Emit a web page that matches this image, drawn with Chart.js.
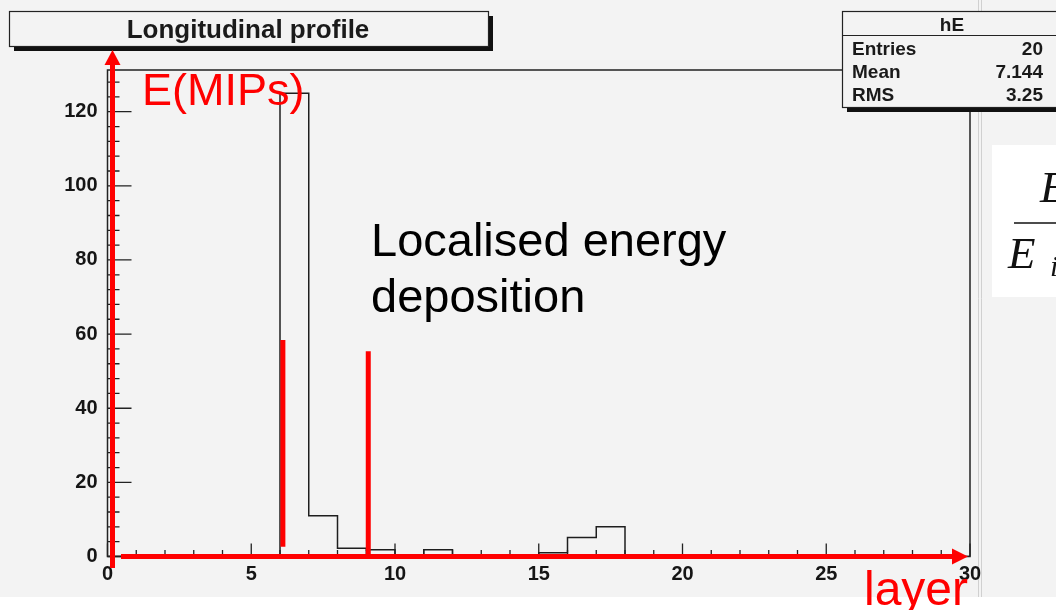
<!DOCTYPE html>
<html>
<head>
<meta charset="utf-8">
<script src="https://cdn.jsdelivr.net/npm/chart.js@4.4.1/dist/chart.umd.min.js"></script>
<style>
  html, body { margin: 0; padding: 0; background: #f3f3f3; }
  #wrap { position: relative; width: 1056px; height: 610px; }
</style>
</head>
<body>
<div id="wrap"><canvas id="hE" width="1056" height="610"></canvas></div>
<script>
// histogram hE: energy per layer (bin i covers layer i .. i+1)
const layers = [0, 1, 2, 3, 4, 5, 6, 7, 8, 9, 10, 11, 12, 13, 14, 15, 16, 17, 18, 19, 20, 21, 22, 23, 24, 25, 26, 27, 28, 29];
const energy = [0, 0, 0, 0, 0, 0, 125, 11, 2.2, 1.8, 0.3, 1.8, 0, 0, 0, 1.0, 5.1, 8.0, 0, 0, 0, 0, 0, 0, 0, 0, 0, 0, 0, 0];
const xTicks = [0, 5, 10, 15, 20, 25, 30];
const yTicks = [0, 20, 40, 60, 80, 100, 120];
const statNames = ['Entries', 'Mean', 'RMS'];
const statValues = ['20', '7.144', '3.25'];
// red marker lines drawn on the slide (layer, from E, to E)
const markers = [[6.1, 2.6, 58.4], [9.07, 0, 55.4]];

// outline: each bin's left edge carries its content, closed at layer 30
const histPoints = layers.map((l, i) => ({ x: l, y: energy[i] }));
histPoints.push({ x: 30, y: 0 });

const tickFont = { family: 'Liberation Sans', size: 20, weight: 'bold' };

function arrow(ctx, x1, y1, x2, y2, w, head, hw) {
    const ang = Math.atan2(y2 - y1, x2 - x1);
    const bx = x2 - Math.cos(ang) * head, by = y2 - Math.sin(ang) * head;
    ctx.strokeStyle = '#ff0000';
    ctx.lineWidth = w;
    ctx.beginPath();
    ctx.moveTo(x1, y1);
    ctx.lineTo(bx, by);
    ctx.stroke();
    ctx.fillStyle = '#ff0000';
    ctx.beginPath();
    ctx.moveTo(x2, y2);
    ctx.lineTo(bx - Math.sin(ang) * hw, by + Math.cos(ang) * hw);
    ctx.lineTo(bx + Math.sin(ang) * hw, by - Math.cos(ang) * hw);
    ctx.closePath();
    ctx.fill();
}

const rootFrame = {
    id: 'rootFrame',
    beforeDraw(chart) {
        const ctx = chart.ctx;
        ctx.save();
        ctx.fillStyle = '#f3f3f3';
        ctx.fillRect(0, 0, 1056, 610);
        ctx.fillStyle = '#ffffff';
        ctx.fillRect(0, 597, 1056, 13);
        // pad edge lines on the right
        ctx.strokeStyle = '#d0d0d0';
        ctx.lineWidth = 1;
        ctx.beginPath();
        ctx.moveTo(978.5, 0); ctx.lineTo(978.5, 597);
        ctx.moveTo(981.5, 0); ctx.lineTo(981.5, 597);
        ctx.stroke();
        ctx.restore();
    },
    afterDatasetsDraw(chart) {
        const ctx = chart.ctx;
        const a = chart.chartArea;
        const xs = chart.scales.x, ys = chart.scales.y;
        ctx.save();
        ctx.strokeStyle = '#222';
        ctx.lineWidth = 1.5;
        ctx.strokeRect(a.left, a.top, a.right - a.left, a.bottom - a.top);
        // ticks drawn inside the frame, ROOT style
        ctx.lineWidth = 1.3;
        ctx.beginPath();
        for (let v = 0; v <= 128; v += 4) {
            const y = ys.getPixelForValue(v);
            const len = v % 20 === 0 ? 24 : 12;
            ctx.moveTo(a.left, y); ctx.lineTo(a.left + len, y);
        }
        for (let v = 0; v <= 30; v += 1) {
            const x = xs.getPixelForValue(v);
            const len = v % 5 === 0 ? 13 : 6.5;
            ctx.moveTo(x, a.bottom); ctx.lineTo(x, a.bottom - len);
        }
        ctx.stroke();

        // title box
        ctx.fillStyle = '#111';
        ctx.fillRect(14, 16, 479, 35);
        ctx.fillStyle = '#f3f3f3';
        ctx.fillRect(9.5, 11.5, 479, 35);
        ctx.strokeStyle = '#222';
        ctx.lineWidth = 1.2;
        ctx.strokeRect(9.5, 11.5, 479, 35);
        ctx.fillStyle = '#1a1a1a';
        ctx.font = 'bold 26px "Liberation Sans"';
        ctx.textAlign = 'center';
        ctx.textBaseline = 'alphabetic';
        ctx.fillText('Longitudinal profile', 248, 38);

        // stats box
        ctx.fillStyle = '#111';
        ctx.fillRect(847, 16, 220, 96);
        ctx.fillStyle = '#f3f3f3';
        ctx.fillRect(842.5, 11.5, 220, 96);
        ctx.strokeStyle = '#222';
        ctx.strokeRect(842.5, 11.5, 220, 96);
        ctx.beginPath();
        ctx.moveTo(842.5, 35.5); ctx.lineTo(1056, 35.5);
        ctx.stroke();
        ctx.fillStyle = '#1a1a1a';
        ctx.font = 'bold 19px "Liberation Sans"';
        ctx.textAlign = 'center';
        ctx.fillText('hE', 952, 31);
        statNames.forEach((n, i) => {
            ctx.textAlign = 'left';
            ctx.fillText(n, 852, 55 + i * 23);
            ctx.textAlign = 'right';
            ctx.fillText(statValues[i], 1043, 55 + i * 23);
        });

        // formula fragment at the right edge
        ctx.fillStyle = '#ffffff';
        ctx.fillRect(992, 145, 70, 152);
        ctx.strokeStyle = '#111';
        ctx.lineWidth = 1.5;
        ctx.beginPath();
        ctx.moveTo(1014, 223); ctx.lineTo(1056, 223);
        ctx.stroke();
        ctx.fillStyle = '#111';
        ctx.textAlign = 'left';
        ctx.font = 'italic 45px "Liberation Serif"';
        ctx.fillText('E', 1040, 202);
        ctx.fillText('E', 1008, 268);
        ctx.font = 'italic 30px "Liberation Serif"';
        ctx.fillText('i', 1050, 276);
        ctx.restore();
    },
    afterDraw(chart) {
        const ctx = chart.ctx;
        const xs = chart.scales.x, ys = chart.scales.y;
        ctx.save();
        // red axis arrows
        const y0 = ys.getPixelForValue(0);
        arrow(ctx, 121, y0, xs.getPixelForValue(29.93), y0, 5, 16, 8);
        arrow(ctx, 112.5, 568, 112.5, 50, 5, 15, 8);
        ctx.strokeStyle = '#ff0000';
        ctx.lineWidth = 5;
        markers.forEach(m => {
            const x = xs.getPixelForValue(m[0]);
            ctx.beginPath();
            ctx.moveTo(x, ys.getPixelForValue(m[1]));
            ctx.lineTo(x, ys.getPixelForValue(m[2]));
            ctx.stroke();
        });
        ctx.fillStyle = '#ff0000';
        ctx.textAlign = 'left';
        ctx.font = '45px "Liberation Sans"';
        ctx.fillText('E(MIPs)', 142, 105);
        ctx.font = '48px "Liberation Sans"';
        ctx.fillText('layer', 864, 605);
        ctx.fillStyle = '#000';
        ctx.font = '47px "Liberation Sans"';
        ctx.fillText('Localised energy', 371, 256);
        ctx.fillText('deposition', 371, 312);
        ctx.restore();
    }
};

new Chart(document.getElementById('hE'), {
    type: 'line',
    data: {
        datasets: [{
            label: 'hE',
            data: histPoints,
            stepped: 'before',
            borderColor: '#1e1e1e',
            borderWidth: 1.5,
            pointRadius: 0,
            fill: false
        }]
    },
    plugins: [rootFrame],
    options: {
        responsive: false,
        animation: false,
        devicePixelRatio: 1,
        layout: { padding: { top: 70, right: 86, left: 0, bottom: 0 } },
        plugins: { legend: { display: false }, tooltip: { enabled: false } },
        scales: {
            x: {
                type: 'linear',
                min: 0,
                max: 30,
                afterBuildTicks: s => { s.ticks = xTicks.map(v => ({ value: v })); },
                afterFit: s => { s.height = 53.5; },
                ticks: { font: tickFont, color: '#151515', padding: 6, maxRotation: 0 },
                grid: { display: false, drawTicks: false },
                border: { display: false }
            },
            y: {
                type: 'linear',
                min: 0,
                max: 131.25,
                afterBuildTicks: s => { s.ticks = yTicks.map(v => ({ value: v })); },
                afterFit: s => { s.width = 107.5; },
                ticks: { font: tickFont, color: '#151515', padding: 10 },
                grid: { display: false, drawTicks: false },
                border: { display: false }
            }
        }
    }
});
</script>
</body>
</html>
